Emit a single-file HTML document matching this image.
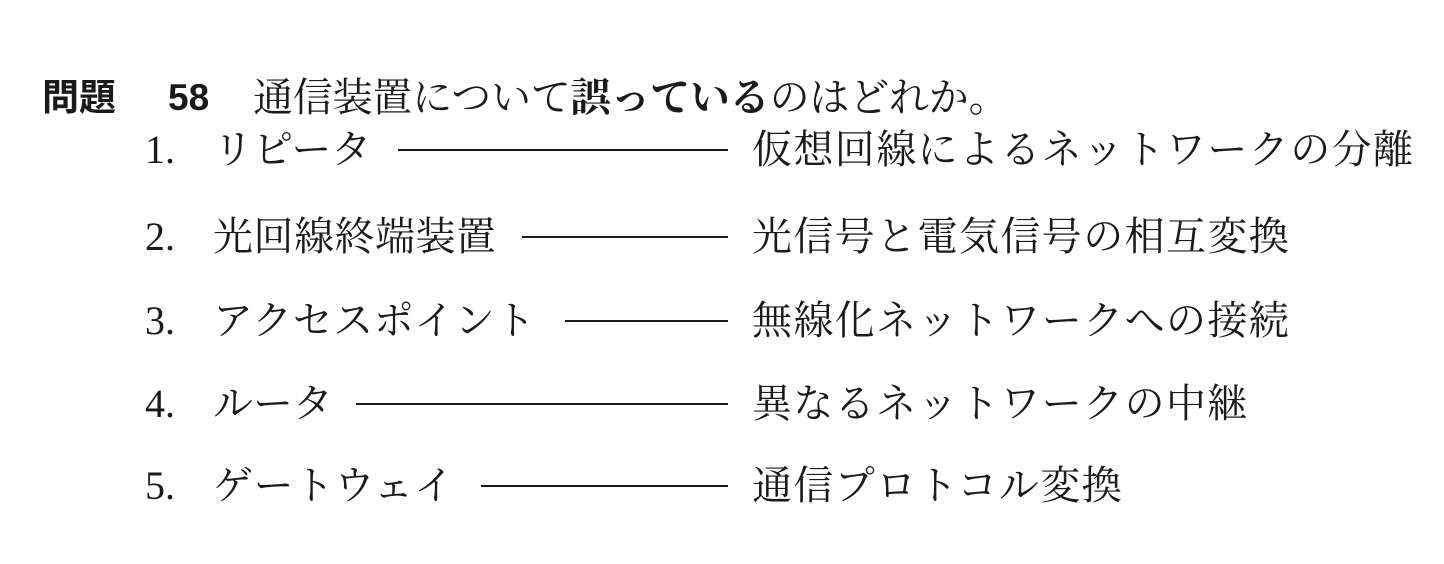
<!DOCTYPE html>
<html><head><meta charset="utf-8"><style>
body{margin:0;width:1444px;height:564px;background:#fff;position:relative;overflow:hidden;color:#1a1a1a}
.t{position:absolute;white-space:nowrap;font-family:"Liberation Serif","Noto Serif CJK JP",serif;font-size:40px;line-height:40px;}
.s{font-family:"Liberation Sans","Noto Sans CJK JP",sans-serif;font-weight:bold;font-size:37px}
.b{font-weight:bold}
.l{position:absolute;height:2px;background:#1a1a1a}
</style></head><body>
<div class="t s" style="left:42px;top:78px">問題</div>
<div class="t s" style="left:168px;top:78px">58</div>
<div class="t" style="left:253px;top:78px;letter-spacing:-0.2px">通信装置について<span class="b">誤っている</span>のはどれか。</div>

<div class="t" style="left:145px;top:130px">1.</div>
<div class="t" style="left:213px;top:130px">リピータ</div>
<div class="l" style="left:398px;width:330px;top:149px"></div>
<div class="t" style="left:752px;top:130px;letter-spacing:1.4px">仮想回線によるネットワークの分離</div>

<div class="t" style="left:145px;top:217px">2.</div>
<div class="t" style="left:213px;top:217px;letter-spacing:0.5px">光回線終端装置</div>
<div class="l" style="left:522px;width:206px;top:236px"></div>
<div class="t" style="left:752px;top:217px;letter-spacing:1.4px">光信号と電気信号の相互変換</div>

<div class="t" style="left:145px;top:301px">3.</div>
<div class="t" style="left:213px;top:301px;letter-spacing:0.5px">アクセスポイント</div>
<div class="l" style="left:565px;width:163px;top:320px"></div>
<div class="t" style="left:752px;top:301px;letter-spacing:1.4px">無線化ネットワークへの接続</div>

<div class="t" style="left:145px;top:384px">4.</div>
<div class="t" style="left:213px;top:384px">ルータ</div>
<div class="l" style="left:356px;width:372px;top:403px"></div>
<div class="t" style="left:752px;top:384px;letter-spacing:1.4px">異なるネットワークの中継</div>

<div class="t" style="left:145px;top:466px">5.</div>
<div class="t" style="left:213px;top:466px;letter-spacing:0.5px">ゲートウェイ</div>
<div class="l" style="left:481px;width:247px;top:485px"></div>
<div class="t" style="left:752px;top:466px;letter-spacing:1.4px">通信プロトコル変換</div>
</body></html>
